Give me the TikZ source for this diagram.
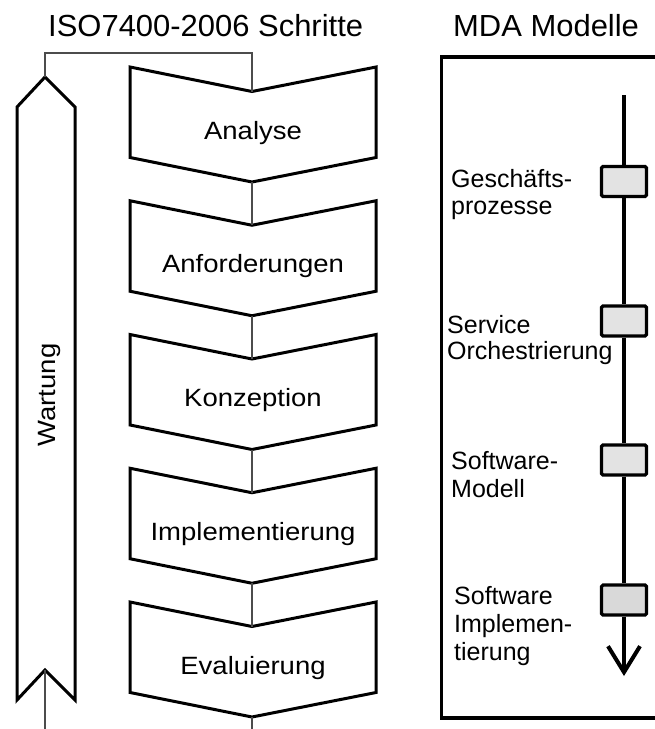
\documentclass[tikz,border=0pt]{standalone}
\usepackage{fontspec}
\setmainfont{Liberation Sans}
\newfontfamily\widefont[FakeStretch=1.1]{Liberation Sans}
\newfontfamily\titlefont[FakeStretch=1.015]{Liberation Sans}
\usetikzlibrary{arrows.meta}
\definecolor{boxgray}{HTML}{E3E3E3}
\definecolor{boxgraydark}{HTML}{D9D9D9}
\begin{document}
\begin{tikzpicture}[x=1pt,y=-1pt,
  chev/.style={draw=black, line width=3pt, line join=miter},
  thinline/.style={draw=black!70, line width=1.1pt},
  steplabel/.style={font=\widefont\fontsize{25}{30}\selectfont, anchor=base, inner sep=0pt},
  titletext/.style={font=\titlefont\fontsize{30.5}{36}\selectfont, anchor=base west, inner sep=0pt},
  mlabel/.style={font=\fontsize{25}{30}\selectfont, anchor=base west, inner sep=0pt},
  mbox/.style={draw=black, line width=3.2pt, rounded corners=1.5pt, fill=#1, minimum width=45pt, minimum height=30pt, inner sep=0pt},
  vline/.style={draw=black, line width=4pt},
]
\useasboundingbox (0,0) rectangle (654,729);

% titles
\node[titletext] (t1) at (48,36) {ISO7400-2006 Schritte};
\node[titletext] (t2) at (453,36) {MDA Modelle};

% Wartung arrow
\draw[chev] (45,77) -- (75,107) -- (75,700) -- (45,670) -- (17,700) -- (17,107) -- cycle;
\coordinate (wtop) at (45,77);
\coordinate (wbot) at (45,670);
\node[steplabel, rotate=90] (wart) at (55,395) {Wartung};

% process chevrons
\foreach \i/\t/\lab in {1/67/Analyse, 2/200.75/Anforderungen, 3/334.5/Konzeption, 4/468.25/Implementierung, 5/602/Evaluierung} {
  \draw[chev] (130,\t) -- (252,\t+24.5) -- (376,\t) -- (376,\t+90.5) -- (252,\t+115) -- (130,\t+90.5) -- cycle;
  \coordinate (n\i) at (252,\t+24.5);
  \coordinate (p\i) at (252,\t+115);
  \node[steplabel] (s\i) at (253,\t+72) {\lab};
}

% connectors
\coordinate (c1) at (252,53);
\draw[thinline] (n1) -- (c1) -| (wtop);
\draw[thinline] (p1) -- (n2);
\draw[thinline] (p2) -- (n3);
\draw[thinline] (p3) -- (n4);
\draw[thinline] (p4) -- (n5);
\coordinate (e5) at (252,732);
\draw[thinline] (p5) -- (e5);
\coordinate (we) at (45,732);
\draw[thinline] (wbot) -- (we);

% MDA panel
\draw[line width=3.2pt] (658,57) -- (441.5,57) -- (441.5,718) -- (658,718);

\node[mbox=boxgray] (m1) at (624,181.5) {};
\node[mbox=boxgray] (m2) at (624,321) {};
\node[mbox=boxgray] (m3) at (624,460) {};
\node[mbox=boxgraydark] (m4) at (624,600) {};
\coordinate (vtop) at (624,95);
\coordinate (vend) at (624,676);
\draw[vline] (vtop) -- (m1);
\draw[vline] (m1) -- (m2);
\draw[vline] (m2) -- (m3);
\draw[vline] (m3) -- (m4);
\draw[vline, -{Straight Barb[length=26pt,width=32pt]}] (m4) -- (vend);

% MDA labels
\node[mlabel] (g1) at (451,187) {Geschäfts-};
\node[mlabel] (g2) at (451,214) {prozesse};
\node[mlabel] (o1) at (447,333) {Service};
\node[mlabel] (o2) at (447,359) {Orchestrierung};
\node[mlabel] (w1) at (451,469) {Software-};
\node[mlabel] (w2) at (451,497) {Modell};
\node[mlabel] (i1) at (454,604) {Software};
\node[mlabel] (i2) at (454,632) {Implemen-};
\node[mlabel] (i3) at (454,660) {tierung};
\end{tikzpicture}
\end{document}
